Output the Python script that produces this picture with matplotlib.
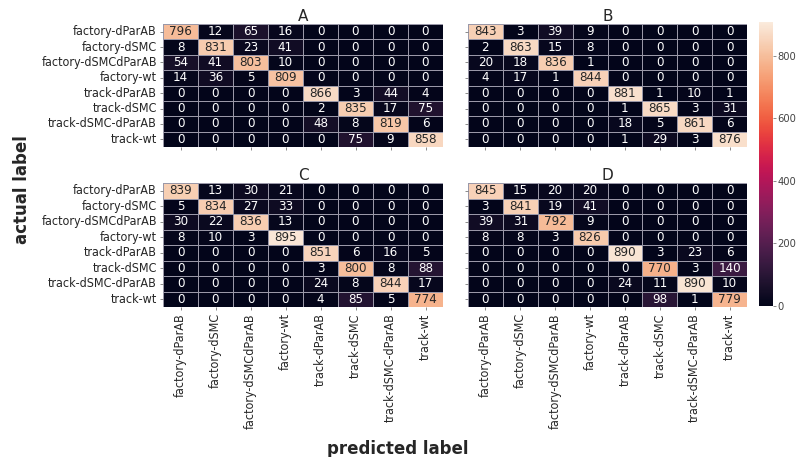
import numpy as np
import matplotlib
matplotlib.use("Agg")
import matplotlib.pyplot as plt
import seaborn as sns

labels = ["factory-dParAB", "factory-dSMC", "factory-dSMCdParAB", "factory-wt",
          "track-dParAB", "track-dSMC", "track-dSMC-dParAB", "track-wt"]

cm_a = [[796, 12, 65, 16, 0, 0, 0, 0],
        [8, 831, 23, 41, 0, 0, 0, 0],
        [54, 41, 803, 10, 0, 0, 0, 0],
        [14, 36, 5, 809, 0, 0, 0, 0],
        [0, 0, 0, 0, 866, 3, 44, 4],
        [0, 0, 0, 0, 2, 835, 17, 75],
        [0, 0, 0, 0, 48, 8, 819, 6],
        [0, 0, 0, 0, 0, 75, 9, 858]]

cm_b = [[843, 3, 39, 9, 0, 0, 0, 0],
        [2, 863, 15, 8, 0, 0, 0, 0],
        [20, 18, 836, 1, 0, 0, 0, 0],
        [4, 17, 1, 844, 0, 0, 0, 0],
        [0, 0, 0, 0, 881, 1, 10, 1],
        [0, 0, 0, 0, 1, 865, 3, 31],
        [0, 0, 0, 0, 18, 5, 861, 6],
        [0, 0, 0, 0, 1, 29, 3, 876]]

cm_c = [[839, 13, 30, 21, 0, 0, 0, 0],
        [5, 834, 27, 33, 0, 0, 0, 0],
        [30, 22, 836, 13, 0, 0, 0, 0],
        [8, 10, 3, 895, 0, 0, 0, 0],
        [0, 0, 0, 0, 851, 6, 16, 5],
        [0, 0, 0, 0, 3, 800, 8, 88],
        [0, 0, 0, 0, 24, 8, 844, 17],
        [0, 0, 0, 0, 4, 85, 5, 774]]

cm_d = [[845, 15, 20, 20, 0, 0, 0, 0],
        [3, 841, 19, 41, 0, 0, 0, 0],
        [39, 31, 792, 9, 0, 0, 0, 0],
        [8, 8, 3, 826, 0, 0, 0, 0],
        [0, 0, 0, 0, 890, 3, 23, 6],
        [0, 0, 0, 0, 0, 770, 3, 140],
        [0, 0, 0, 0, 24, 11, 890, 10],
        [0, 0, 0, 0, 0, 98, 1, 779]]

titles = ["A", "B", "C", "D"]
mats = [cm_a, cm_b, cm_c, cm_d]
cbar_ticks = [0, 200, 400, 600, 800]

W, H = 798, 457
fig = plt.figure(figsize=(W / 100, H / 100), dpi=100)

def px_axes(x0, y0, x1, y1):
    return fig.add_axes([x0 / W, 1 - y1 / H, (x1 - x0) / W, (y1 - y0) / H])

boxes = [(163, 24, 443, 147), (468, 24, 747, 147),
         (163, 183, 443, 307), (468, 183, 747, 307)]
cax = px_axes(759, 22, 773, 306)

txt = dict(fontstretch="condensed", color="#262626")
vmax = max(np.max(m) for m in mats) + 12

for i, (m, t, box) in enumerate(zip(mats, titles, boxes)):
    ax = px_axes(*box)
    sns.heatmap(np.array(m), ax=ax, annot=True, fmt="d", vmin=0, vmax=vmax,
                linewidths=0.5, linecolor="#9a98a8",
                cbar=(i == 0), cbar_ax=cax if i == 0 else None,
                annot_kws={"fontsize": 9.5, "fontstretch": "condensed"},
                xticklabels=labels, yticklabels=labels)
    ax.set_title(t, fontsize=11, pad=2, color="#262626")
    ax.tick_params(length=2.5, width=0.6, color="#777777", pad=2)
    if i % 2 == 0:
        ax.set_yticklabels(labels, rotation=0, fontsize=9, **txt)
    else:
        ax.set_yticklabels([])
    if i >= 2:
        ax.set_xticklabels(labels, rotation=90, fontsize=9, **txt)
    else:
        ax.set_xticklabels([])

cax.set_yticks(cbar_ticks)
cax.set_yticklabels([str(v) for v in cbar_ticks], fontsize=8,
                    fontstretch="condensed", color="#444444")
cax.tick_params(length=2, width=0.6, color="#777777", pad=1)
for s in cax.spines.values():
    s.set_visible(False)

fig.text(22 / W, 1 - 190 / H, "actual label", rotation=90, ha="center", va="center",
         fontsize=12, fontweight="bold", color="#262626")
fig.text(398 / W, 1 - 449 / H, "predicted label", ha="center", va="center",
         fontsize=12, fontweight="bold", color="#262626")

fig.savefig("out.png", dpi=100)
